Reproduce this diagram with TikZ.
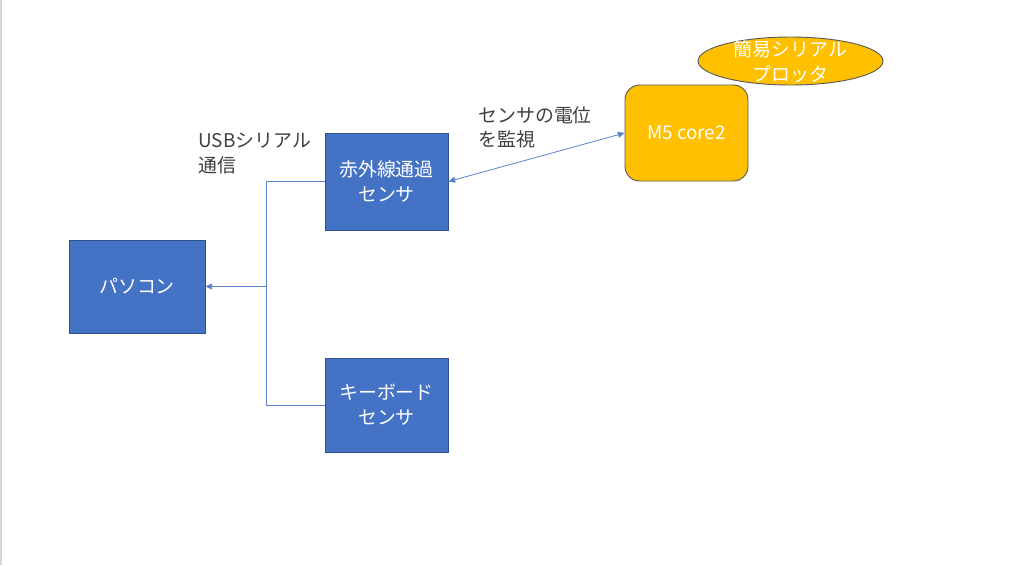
\documentclass[tikz,border=0pt]{standalone}
\usepackage{fontspec}
\setmainfont{Noto Sans CJK JP}
\usetikzlibrary{arrows.meta,shapes.geometric}
\definecolor{boxblue}{HTML}{4472C4}
\definecolor{boxedge}{HTML}{2F528F}
\definecolor{gold}{HTML}{FFC000}
\definecolor{goldedge}{HTML}{5A5A5A}
\definecolor{txt}{HTML}{404040}
\definecolor{lineblue}{HTML}{5B84CC}
\tikzset{
  bluebox/.style={draw=boxedge, line width=0.7pt, fill=boxblue, text=white, align=center,
    font=\fontsize{14.2pt}{18.5pt}\selectfont, inner sep=0pt},
  lbl/.style={text=txt, align=left, anchor=north west, inner sep=0pt,
    font=\fontsize{14.2pt}{18.5pt}\selectfont},
  conn/.style={draw=lineblue, line width=0.6pt},
  tip/.style={-{Triangle[length=5pt,width=4.5pt]}},
  tips/.style={{Triangle[length=5pt,width=4.5pt]}-{Triangle[length=5pt,width=4.5pt]}}
}
\begin{document}
\begin{tikzpicture}[x=0.75pt,y=-0.75pt]
\useasboundingbox (0,0) rectangle (1024,565);
\fill[white] (0,0) rectangle (1024,565);
\draw[draw={rgb,255:red,215;green,215;blue,215}, line width=1.2pt] (1,0) -- (1,565);
% nodes
\node[bluebox, minimum width=136*0.75pt, minimum height=93*0.75pt] (pc) at (137,286.5) {パソコン};
\node[bluebox, minimum width=123*0.75pt, minimum height=97*0.75pt] (ir) at (386.5,181.5) {赤外線通過\\センサ};
\node[bluebox, minimum width=123*0.75pt, minimum height=94*0.75pt] (kb) at (386.5,405) {キーボード\\センサ};
\node[draw=goldedge, line width=0.7pt, fill=gold, rounded corners=11pt, text=white,
  minimum width=123*0.75pt, minimum height=96*0.75pt, inner sep=0pt,
  font=\fontsize{14.2pt}{18.5pt}\selectfont] (m5) at (686.5,133) {M5 core2};
\node[ellipse, draw=goldedge, line width=0.7pt, fill=gold, inner sep=0pt,
  minimum width=185*0.75pt, minimum height=48*0.75pt] (plot) at (790.5,61) {};
\node[text=white, align=center, inner sep=0pt, font=\fontsize{14.2pt}{18.5pt}\selectfont] (plottext) at (790.5,61.5) {簡易シリアル\\プロッタ};
% labels
\node[lbl] (usb) at (198,133) {USBシリアル\\通信};
\node[lbl] (mon) at (478,106) {センサの電位\\を監視};
% connectors
\coordinate (j) at (266,286.5);
\draw[conn] (ir.west) -| (j);
\draw[conn] (kb.west) -| (j);
\draw[conn, tip] (j) -- (pc.east);
\draw[conn, tips] (ir.east) -- (m5.west);
\end{tikzpicture}
\end{document}
